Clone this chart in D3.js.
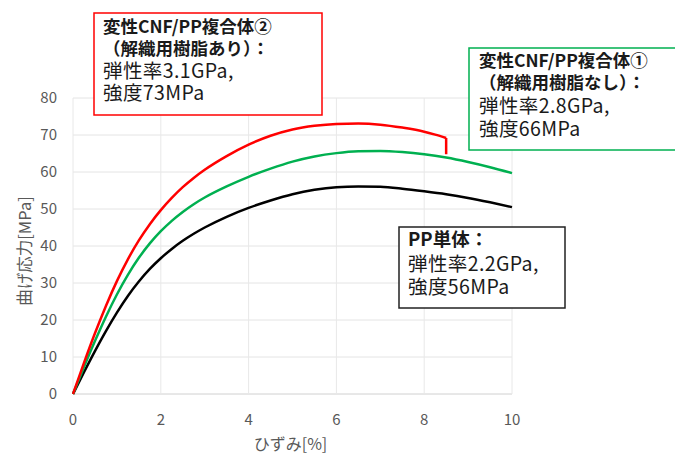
<!DOCTYPE html>
<html>
<head>
<meta charset="utf-8">
<script src="https://cdn.jsdelivr.net/npm/d3@7"></script>
<style>
  body { margin: 0; background: #fff; }
  svg { font-family: "Noto Sans CJK JP", "Noto Sans", sans-serif; }
</style>
</head>
<body>
<div id="chart"></div>
<script>
// strain [%] and bending stress [MPa]
const strain = [0, 0.25, 0.5, 0.75, 1, 1.25, 1.5, 1.75, 2, 2.25, 2.5, 2.75, 3, 3.5, 4, 4.5, 5, 5.5, 6, 6.5, 7, 7.5, 8, 8.5, 9, 9.5, 10];
const stressGreen = [0, 7.3, 14.3, 20.9, 26.9, 32.2, 36.8, 40.7, 44.0, 46.8, 49.2, 51.3, 53.1, 56.1, 58.7, 60.9, 62.8, 64.2, 65.1, 65.6, 65.7, 65.4, 64.8, 63.9, 62.7, 61.3, 59.7];
const stressBlack = [0, 5.9, 11.6, 17.0, 22.0, 26.5, 30.4, 33.8, 36.7, 39.2, 41.4, 43.3, 45.0, 47.9, 50.3, 52.3, 54.0, 55.2, 55.9, 56.1, 56.0, 55.5, 54.8, 54.0, 53.0, 51.8, 50.5];

// red sample breaks at 8.5 %
const strainRed = [0, 0.25, 0.5, 0.75, 1, 1.25, 1.5, 1.75, 2, 2.25, 2.5, 2.75, 3, 3.5, 4, 4.5, 5, 5.5, 6, 6.5, 7, 7.5, 8, 8.25, 8.5];
const stressRed = [0, 8.4, 16.4, 23.8, 30.5, 36.4, 41.5, 45.9, 49.7, 53.0, 55.9, 58.4, 60.6, 64.3, 67.4, 69.8, 71.5, 72.5, 73.0, 73.1, 72.8, 72.0, 70.9, 70.1, 69.2];
const redBreak = [8.5, 64.8];

const xTicks = [0, 2, 4, 6, 8, 10];
const yTicks = [0, 10, 20, 30, 40, 50, 60, 70, 80];

const W = 675, H = 456;
const margin = {left: 73, right: 163, top: 98, bottom: 62};

const svg = d3.select('#chart').append('svg')
  .attr('width', W)
  .attr('height', H);

const x = d3.scaleLinear().domain([0, 10]).range([margin.left, W - margin.right]);
const y = d3.scaleLinear().domain([0, 80]).range([H - margin.bottom, margin.top]);

// gridlines
svg.append('g').selectAll('line')
  .data(yTicks)
  .enter().append('line')
  .attr('x1', x(0)).attr('x2', x(10))
  .attr('y1', d => y(d)).attr('y2', d => y(d))
  .attr('stroke', d => d === 0 ? '#d0d0d0' : '#e4e4e4')
  .attr('stroke-width', 1);

svg.append('g').selectAll('line')
  .data(xTicks)
  .enter().append('line')
  .attr('x1', d => x(d)).attr('x2', d => x(d))
  .attr('y1', y(0)).attr('y2', y(80))
  .attr('stroke', '#e8e8e8')
  .attr('stroke-width', 1);

// tick labels
svg.append('g').selectAll('text')
  .data(yTicks)
  .enter().append('text')
  .attr('x', 57)
  .attr('y', d => y(d))
  .attr('dy', '0.35em')
  .attr('text-anchor', 'end')
  .attr('fill', '#595959')
  .style('font-size', '15px')
  .text(d => d);

svg.append('g').selectAll('text')
  .data(xTicks)
  .enter().append('text')
  .attr('x', d => x(d))
  .attr('y', 425)
  .attr('text-anchor', 'middle')
  .attr('fill', '#595959')
  .style('font-size', '15px')
  .text(d => d);

// axis titles
svg.append('text')
  .attr('x', x(5) - 2)
  .attr('y', 450)
  .attr('text-anchor', 'middle')
  .attr('fill', '#595959')
  .style('font-size', '16px')
  .text('ひずみ[%]');

svg.append('text')
  .attr('transform', 'translate(31,251)rotate(-90)')
  .attr('text-anchor', 'middle')
  .attr('fill', '#595959')
  .style('font-size', '16.5px')
  .text('曲げ応力[MPa]');

// curves
const line = d3.line()
  .x(d => x(d[0]))
  .y(d => y(d[1]))
  .curve(d3.curveMonotoneX);

svg.append('path')
  .datum(d3.zip(strain, stressBlack))
  .attr('d', line)
  .attr('fill', 'none')
  .attr('stroke', '#000')
  .attr('stroke-width', 2.5);

svg.append('path')
  .datum(d3.zip(strain, stressGreen))
  .attr('d', line)
  .attr('fill', 'none')
  .attr('stroke', '#00b050')
  .attr('stroke-width', 2.5);

const redPts = d3.zip(strainRed, stressRed);
svg.append('path')
  .datum(redPts)
  .attr('d', line)
  .attr('fill', 'none')
  .attr('stroke', '#ff0000')
  .attr('stroke-width', 2.5);

// fracture drop
svg.append('path')
  .datum([redPts[redPts.length - 1], redBreak])
  .attr('d', d3.line().x(d => x(d[0])).y(d => y(d[1])))
  .attr('fill', 'none')
  .attr('stroke', '#ff0000')
  .attr('stroke-width', 2.5);

// annotation boxes
function noteBox(bx, by, bw, bh, color, tx, lines) {
  svg.append('rect')
    .attr('x', bx).attr('y', by)
    .attr('width', bw).attr('height', bh)
    .attr('fill', '#fff')
    .attr('stroke', color)
    .attr('stroke-width', 1.5);
  lines.forEach(l => {
    svg.append('text')
      .attr('x', tx)
      .attr('y', l.y)
      .attr('fill', '#1a1a1a')
      .style('font-size', l.size || (l.bold ? '17.5px' : '19.5px'))
      .style('font-weight', l.bold ? 'bold' : 'normal')
      .style('letter-spacing', l.bold ? null : '0.4px')
      .text(l.t);
  });
}

noteBox(94, 13, 228, 102, '#ff0000', 103, [
  {t: '変性CNF/PP複合体②', y: 33, bold: true},
  {t: '（解織用樹脂あり）：', y: 55, bold: true},
  {t: '弾性率3.1GPa,', y: 78},
  {t: '強度73MPa', y: 100}
]);

noteBox(469, 48, 220, 102, '#00b050', 479, [
  {t: '変性CNF/PP複合体①', y: 67, bold: true},
  {t: '（解織用樹脂なし）：', y: 89, bold: true},
  {t: '弾性率2.8GPa,', y: 113},
  {t: '強度66MPa', y: 136}
]);

noteBox(399, 227, 166, 81, '#222', 408, [
  {t: 'PP単体：', y: 246, bold: true, size: '18.5px'},
  {t: '弾性率2.2GPa,', y: 271},
  {t: '強度56MPa', y: 294}
]);
</script>
</body>
</html>
